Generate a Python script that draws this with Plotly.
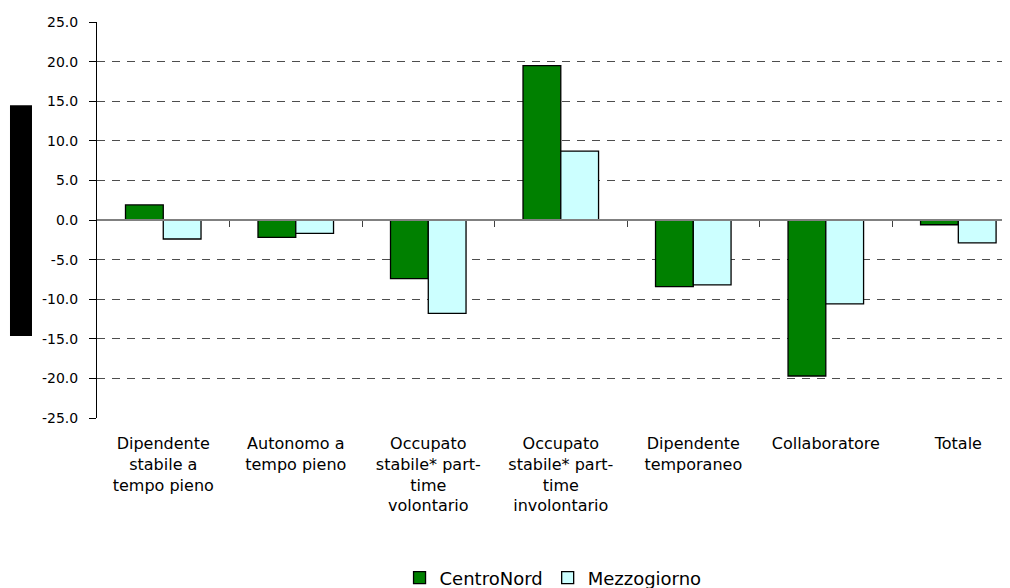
import plotly.graph_objects as go

# Dati
categorie = [
    'Dipendente<br>stabile a<br>tempo pieno',
    'Autonomo a<br>tempo pieno',
    'Occupato<br>stabile* part-<br>time<br>volontario',
    'Occupato<br>stabile* part-<br>time<br>involontario',
    'Dipendente<br>temporaneo',
    'Collaboratore',
    'Totale',
]
centro_nord = [1.9, -2.2, -7.4, 19.5, -8.4, -19.7, -0.6]
mezzogiorno = [-2.4, -1.7, -11.8, 8.7, -8.2, -10.6, -2.9]
y_ticks = [25, 20, 15, 10, 5, 0, -5, -10, -15, -20, -25]
y_ticktext = [f'{v:.1f}' for v in y_ticks]

FONT = 'DejaVu Sans, Liberation Sans, Arial, sans-serif'
n = len(categorie)
x_range = [-0.5, n - 0.61]

fig = go.Figure()
fig.add_trace(go.Bar(x=categorie, y=centro_nord, name='CentroNord',
                     marker=dict(color='#008000', line=dict(color='black', width=1.3))))
fig.add_trace(go.Bar(x=categorie, y=mezzogiorno, name='Mezzogiorno',
                     marker=dict(color='#CCFFFF', line=dict(color='black', width=1.3))))
# traccia invisibile: serve solo a disegnare l'asse sullo zero
fig.add_trace(go.Scatter(x=list(range(n)), y=centro_nord, xaxis='x2', mode='none',
                         showlegend=False, hoverinfo='skip'))

# la pagina ha 8px di margine del body: figura 1002x580, margini compensati
fig.update_layout(
    width=1002, height=580,
    margin=dict(l=89, r=0, t=14, b=170),
    paper_bgcolor='white', plot_bgcolor='white',
    font=dict(family=FONT, color='black', size=14),
    barmode='group', bargap=0.43, bargroupgap=0,
    showlegend=True,
    legend=dict(orientation='h', xref='paper', x=0.4995, xanchor='center',
                yref='container', y=0.0172, yanchor='middle',
                font=dict(size=18), itemwidth=30, tracegroupgap=0),
    xaxis=dict(range=x_range, showline=False, ticks='', showgrid=False,
               tickfont=dict(size=16), ticklabelstandoff=14, automargin=False),
    # asse sullo zero con le tacche tra le categorie
    xaxis2=dict(overlaying='x', anchor='free', position=0.5, range=x_range,
                showline=True, linecolor='#808080', linewidth=1.5,
                ticks='outside', ticklen=6, tickcolor='#404040', tickwidth=1,
                tickvals=[i + 0.5 for i in range(n - 1)], showticklabels=False,
                showgrid=False, zeroline=False, automargin=False),
    yaxis=dict(range=[-25, 25], tickvals=y_ticks, ticktext=y_ticktext,
               showline=True, linecolor='black', linewidth=1,
               ticks='outside', ticklen=7, tickcolor='black',
               showgrid=True, gridcolor='#4d4d4d', gridwidth=1, griddash='8px,7px',
               zeroline=False, ticklabelstandoff=8, automargin=False),
    shapes=[dict(type='rect', xref='paper', yref='paper',
                 x0=-0.0953, x1=-0.0712, y0=0.207, y1=0.790,
                 fillcolor='black', line=dict(width=0))],
)

fig.write_html('out.html')
